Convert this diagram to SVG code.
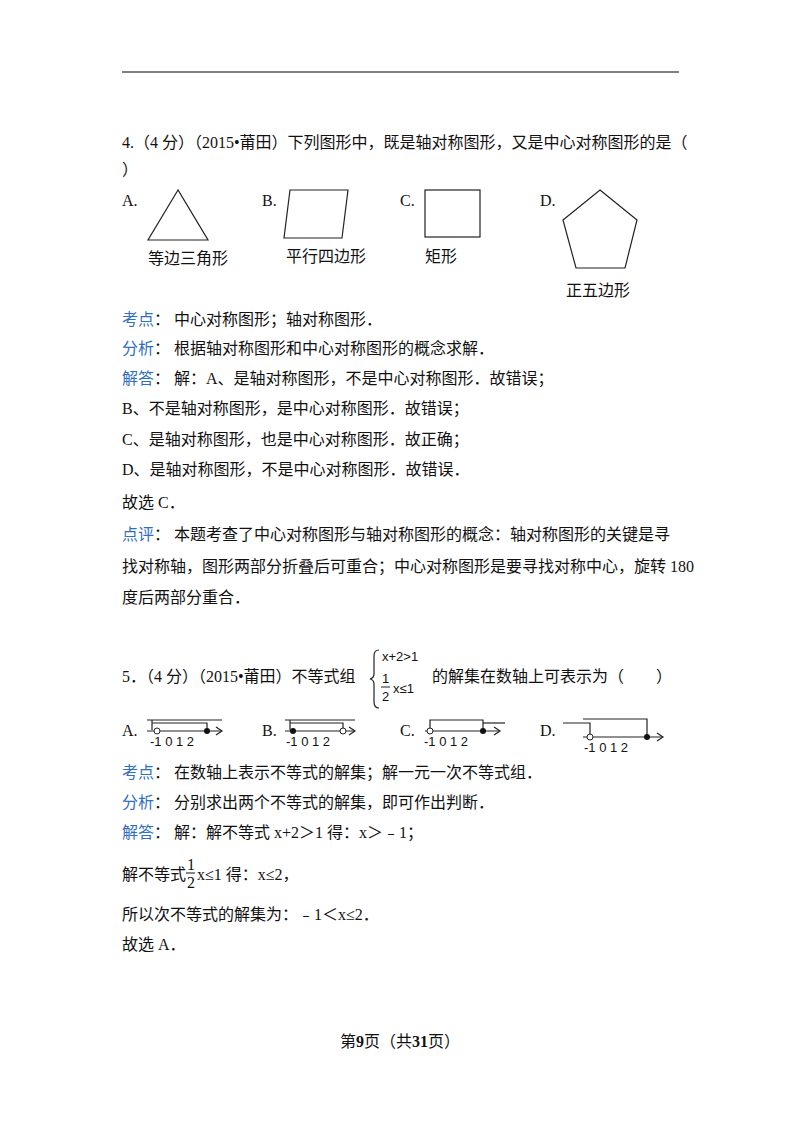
<svg xmlns="http://www.w3.org/2000/svg" width="800" height="1132" viewBox="0 0 800 1132">
<style>
text{font-family:"Liberation Serif","Noto Sans CJK SC",serif;font-size:16px;fill:#111}
.k{fill:#2f6fc0}
.s{font-family:"Liberation Sans","Noto Sans CJK SC",sans-serif;font-size:13px}
.g{fill:none;stroke:#222;stroke-width:1.2}
</style>
<rect width="800" height="1132" fill="#fff"/>
<line x1="122" y1="72" x2="679" y2="72" stroke="#000" stroke-width="1.2"/>
<text x="122" y="148">4.（4 分）（2015•莆田）下列图形中，既是轴对称图形，又是中心对称图形的是（</text>
<text x="122" y="175">）</text>
<g id="q4figs">
<text x="122" y="206">A.</text>
<polygon class="g" points="178,190 148,240 208,240"/>
<text x="148" y="264">等边三角形</text>
<text x="262" y="206">B.</text>
<polygon class="g" points="290,190 348,190 342,238 284,238"/>
<text x="286" y="262">平行四边形</text>
<text x="400" y="206">C.</text>
<rect class="g" x="425" y="190" width="55" height="47"/>
<text x="425" y="262">矩形</text>
<text x="540" y="206">D.</text>
<polygon class="g" points="600,190 637,220 625,268 576,268 563,220"/>
<text x="566" y="296">正五边形</text>
</g>
<text x="122" y="325"><tspan class="k">考点</tspan>：  中心对称图形；轴对称图形．</text>
<text x="122" y="354"><tspan class="k">分析</tspan>：  根据轴对称图形和中心对称图形的概念求解．</text>
<text x="122" y="384"><tspan class="k">解答</tspan>：  解：A、是轴对称图形，不是中心对称图形．故错误；</text>
<text x="122" y="414">B、不是轴对称图形，是中心对称图形．故错误；</text>
<text x="122" y="445">C、是轴对称图形，也是中心对称图形．故正确；</text>
<text x="122" y="475">D、是轴对称图形，不是中心对称图形．故错误．</text>
<text x="122" y="508">故选 C．</text>
<text x="122" y="540"><tspan class="k">点评</tspan>：  本题考查了中心对称图形与轴对称图形的概念：轴对称图形的关键是寻</text>
<text x="122" y="572">找对称轴，图形两部分折叠后可重合；中心对称图形是要寻找对称中心，旋转 180</text>
<text x="122" y="603">度后两部分重合．</text>
<text x="122" y="682">5．（4 分）（2015•莆田）不等式组</text>
<path d="M379,650 q-5,0 -5,6 v18 q0,4 -4,5 q4,1 4,5 v18 q0,6 5,6" class="g"/>
<text x="382" y="661" class="s">x+2&gt;1</text>
<text x="382" y="683" class="s">1</text>
<line x1="381" y1="687" x2="390" y2="687" stroke="#222"/>
<text x="382" y="701" class="s">2</text>
<text x="393" y="693" class="s">x≤1</text>
<text x="432" y="682">的解集在数轴上可表示为（　　）</text>
<g id="q5figs">
<text x="122" y="736">A.</text>
<g class="g"><polyline points="147,720 222,720"/><polyline points="152,720 152,730"/><polyline points="152,723 207,723 207,730"/><line x1="147" y1="731" x2="222" y2="731"/><polyline points="216,727 222,731 216,735"/></g>
<circle cx="157" cy="731" r="3" fill="#fff" stroke="#222"/><circle cx="207" cy="731" r="3" fill="#111"/>
<text x="150" y="746" class="s">-1 0 1 2</text>
<text x="262" y="736">B.</text>
<g class="g"><polyline points="285,720 355,720"/><polyline points="290,720 290,730"/><polyline points="290,723 343,723 343,730"/><line x1="285" y1="731" x2="355" y2="731"/><polyline points="349,727 355,731 349,735"/></g>
<circle cx="293" cy="731" r="3" fill="#111"/><circle cx="343" cy="731" r="3" fill="#fff" stroke="#222"/>
<text x="286" y="746" class="s">-1 0 1 2</text>
<text x="400" y="736">C.</text>
<g class="g"><polyline points="430,730 430,720 483,720 483,730"/><polyline points="483,723 505,723"/><line x1="425" y1="731" x2="500" y2="731"/><polyline points="494,727 500,731 494,735"/></g>
<circle cx="430" cy="731" r="3" fill="#fff" stroke="#222"/><circle cx="483" cy="731" r="3" fill="#111"/>
<text x="424" y="746" class="s">-1 0 1 2</text>
<text x="540" y="736">D.</text>
<g class="g"><polyline points="563,723 590,723 590,736"/><polyline points="583,719 647,719 647,736"/><line x1="583" y1="737" x2="663" y2="737"/><polyline points="657,733 663,737 657,741"/></g>
<circle cx="590" cy="737" r="3" fill="#fff" stroke="#222"/><circle cx="647" cy="737" r="3" fill="#111"/>
<text x="584" y="752" class="s">-1 0 1 2</text>
</g>
<text x="122" y="778"><tspan class="k">考点</tspan>：  在数轴上表示不等式的解集；解一元一次不等式组．</text>
<text x="122" y="808"><tspan class="k">分析</tspan>：  分别求出两个不等式的解集，即可作出判断．</text>
<text x="122" y="838"><tspan class="k">解答</tspan>：  解：解不等式 x+2＞1 得：x＞﹣1；</text>
<text x="122" y="880">解不等式</text>
<text x="187" y="870" font-size="13">1</text>
<line x1="186" y1="873" x2="195" y2="873" stroke="#111"/>
<text x="187" y="888" font-size="13">2</text>
<text x="197" y="880">x≤1 得：x≤2，</text>
<text x="122" y="920">所以次不等式的解集为：﹣1＜x≤2．</text>
<text x="122" y="950">故选 A．</text>
<text x="400" y="1047" text-anchor="middle" font-size="12">第<tspan font-weight="bold">9</tspan>页（共<tspan font-weight="bold">31</tspan>页）</text>
</svg>
